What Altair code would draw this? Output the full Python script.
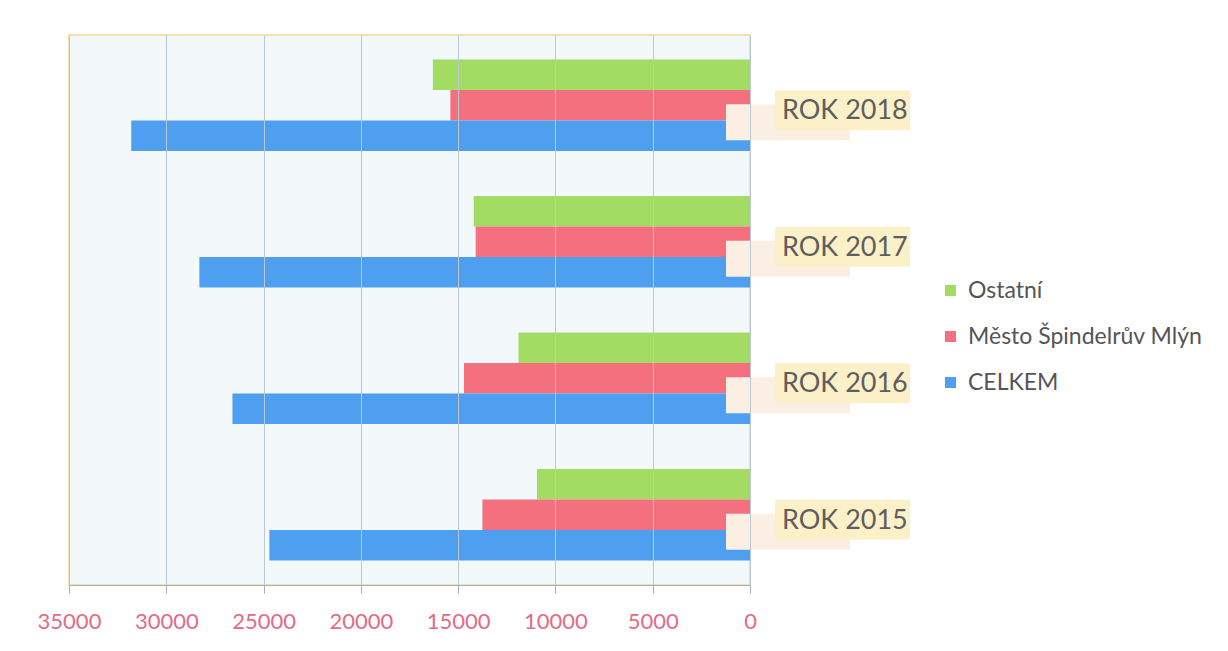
import altair as alt
import pandas as pd

years = ["ROK 2018", "ROK 2017", "ROK 2016", "ROK 2015"]
series = ["Ostatní", "Město Špindelrův Mlýn", "CELKEM"]
ostatni = [16300, 14200, 11900, 10950]
mesto = [15400, 14100, 14700, 13750]
celkem = [31800, 28300, 26600, 24700]
colors = ["#a3dc62", "#f4707e", "#4f9ff0"]
x_ticks = [0, 5000, 10000, 15000, 20000, 25000, 30000, 35000]

rows = []
for i, y in enumerate(years):
    for s, vals in zip(series, [ostatni, mesto, celkem]):
        rows.append({"rok": y, "serie": s, "hodnota": vals[i]})
df = pd.DataFrame(rows)
labels_df = pd.DataFrame({"rok": years})

W, H = 681, 550
FONT = "Lato"

yscale = alt.Scale(domain=years, paddingInner=0.33, paddingOuter=0.18)

bars = alt.Chart(df).mark_bar().encode(
    x=alt.X("hodnota:Q",
            scale=alt.Scale(domain=[0, 35000], reverse=True, nice=False),
            axis=alt.Axis(values=x_ticks, title=None, format="d", labelColor="#e56a86",
                          labelFontSize=22, labelFont=FONT, labelPadding=18,
                          tickColor="#9fb3bf", tickSize=8, domainColor="#9fb3bf",
                          gridColor="#b9c8d2", gridWidth=1, labelFlush=False,
                          zindex=1)),
    y=alt.Y("rok:N", scale=yscale, sort=years, axis=None),
    yOffset=alt.YOffset("serie:N", sort=series, scale=alt.Scale(domain=series, paddingInner=0)),
    color=alt.Color("serie:N", sort=series,
                    scale=alt.Scale(domain=series, range=colors),
                    legend=alt.Legend(title=None, orient="none", legendX=870, legendY=244,
                                      symbolType="square", symbolSize=120,
                                      symbolStrokeWidth=0, labelLimit=400,
                                      labelFontSize=23, labelFont=FONT,
                                      labelColor="#555555", rowPadding=22,
                                      labelOffset=6)),
)

peach = alt.Chart(labels_df).mark_bar(size=36, yOffset=17, color="#fbeee2").encode(
    y=alt.Y("rok:N", scale=yscale, sort=years, axis=None),
    x=alt.value(657), x2=alt.value(781),
)

yellow = alt.Chart(labels_df).mark_bar(size=40, yOffset=5, color="#fcf0c8").encode(
    y=alt.Y("rok:N", scale=yscale, sort=years, axis=None),
    x=alt.value(706), x2=alt.value(841),
)

text = alt.Chart(labels_df).mark_text(align="left", baseline="middle", fontSize=27,
                                      font=FONT, color="#5e5e5e", dy=6).encode(
    y=alt.Y("rok:N", scale=yscale, sort=years, axis=None),
    x=alt.value(713),
    text="rok:N",
)

chart = alt.layer(bars, peach, yellow, text).properties(
    width=W, height=H,
    autosize=alt.AutoSizeParams(type="none"),
    padding={"left": 61, "top": 27, "right": 470, "bottom": 58},
    background="white",
).configure_view(
    fill="#f3f8fa", stroke="#f3d98f", strokeWidth=1.5,
)

chart.save("out.html", embed_options={"renderer": "svg", "actions": False})
